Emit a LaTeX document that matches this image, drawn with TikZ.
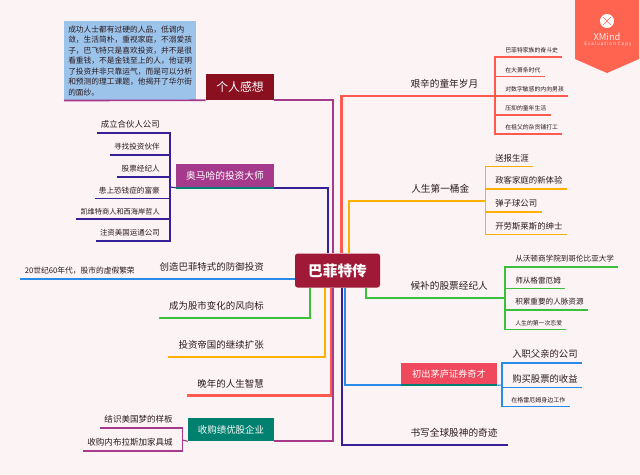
\documentclass[tikz,border=0pt]{standalone}
\usepackage{fontspec}
\setmainfont{Noto Sans CJK SC}
\usetikzlibrary{positioning,calc}
\definecolor{Paper}{HTML}{FCF3F5}
\definecolor{Ink}{HTML}{2A1A1E}
\definecolor{Wine}{HTML}{A01A38}
\definecolor{Maroon}{HTML}{8A1020}
\definecolor{Plum}{HTML}{A53A8C}
\definecolor{Navy}{HTML}{35209A}
\definecolor{Coral}{HTML}{FF5A50}
\definecolor{Amber}{HTML}{FFB000}
\definecolor{Grass}{HTML}{3CC03C}
\definecolor{Sky}{HTML}{2A8AE8}
\definecolor{Teal}{HTML}{00806F}
\definecolor{Rose}{HTML}{F0485C}
\definecolor{Note}{HTML}{9CC3EA}
\definecolor{Badge}{HTML}{FF6450}
\tikzset{
  x=0.75pt,y=-0.75pt,
  topic/.style={fill=#1,align=center,text=white,inner sep=0pt},
  headr/.style={anchor=south west,inner xsep=7.5pt,inner ysep=5.5pt,text=Ink,font=\fontsize{7.25pt}{9pt}\selectfont},
  headl/.style={anchor=south east,inner xsep=7.5pt,inner ysep=5.5pt,text=Ink,font=\fontsize{7.1pt}{9pt}\selectfont},
  leafr/.style={anchor=south west,inner xsep=3pt,inner ysep=3.1pt,text=Ink,font=\fontsize{#1pt}{9pt}\selectfont},
  leafl/.style={anchor=south east,inner xsep=3pt,inner ysep=3.1pt,text=Ink,font=\fontsize{#1pt}{9pt}\selectfont},
  tiny/.style={leafr=#1,inner ysep=2.5pt},
  main/.style={line width=1.8pt},
  sub/.style={line width=0.85pt},
  stripe/.style={draw=Teal,line width=1.5pt}
}
\begin{document}
\begin{tikzpicture}
  \useasboundingbox[fill=Paper] (0,0) rectangle (640,475);

  % badge
  \fill[Badge] (575,0) -- (639,0) -- (639,59) -- (607,73) -- (575,59) -- cycle;
  \fill[white] (607,21) circle (7);
  \draw[Badge,line width=0.5pt] (603,17) -- (611,25) (611,17) -- (603,25);
  \node[inner sep=0pt,text=white!85!Badge,font=\fontsize{7pt}{8pt}\selectfont] (brand) at (607,36.5) {XMind};
  \node[inner sep=0pt,text=white!85!Badge,font=\fontsize{3.4pt}{4pt}\selectfont\addfontfeature{LetterSpace=22}] (brandnote) at (608,44) {Evaluation Copy};

  % centre and coloured topics
  \node[topic=Wine,rounded corners=2pt,minimum width=63.75pt,minimum height=25.5pt,font=\fontsize{11pt}{13pt}\selectfont\bfseries] (root) at (337.5,270.5) {巴菲特传};
  \node[topic=Maroon,minimum width=51pt,minimum height=19.5pt,font=\fontsize{8.9pt}{10pt}\selectfont] (think) at (240,87) {个人感想};
  \node[fill=Note,anchor=north west,minimum width=98.25pt,minimum height=59.25pt,inner xsep=3pt,inner ysep=1pt,align=left,text=Ink,font=\fontsize{5.8pt}{7.9pt}\selectfont] (noteb) at (64,21) {成功人士都有过硬的人品，低调内\\敛，生活简朴，重视家庭，不溺爱孩\\子，巴飞特只是喜欢投资，并不是很\\看重钱，不是金钱至上的人，他证明\\了投资并非只靠运气，而是可以分析\\和预测的理工课题，他揭开了华尔街\\的面纱。};
  \node[topic=Plum,minimum width=73.5pt,minimum height=18.4pt,font=\fontsize{7.3pt}{9pt}\selectfont] (omaha) at (225,176.2) {奥马哈的投资大师};
  \node[topic=Rose,minimum width=72pt,minimum height=17.25pt,font=\fontsize{6.9pt}{9pt}\selectfont] (novice) at (449,374.5) {初出茅庐证券奇才};
  \node[topic=Teal,minimum width=64.5pt,minimum height=17.25pt,font=\fontsize{7.1pt}{9pt}\selectfont] (buy) at (231,429.5) {收购绩优股企业};
  \draw[stripe] ([yshift=0.75pt]omaha.south west) -- ([yshift=0.75pt]omaha.south east);
  \draw[stripe] ([yshift=0.75pt]novice.south west) -- ([yshift=0.75pt]novice.south east);

  % right topics
  \node[headr] (hard) at (400.3,96) {艰辛的童年岁月};
  \node[headr] (gold) at (401,201) {人生第一桶金};
  \node[headr] (broker) at (400.3,298) {候补的股票经纪人};
  \node[headr] (legend) at (400.3,445) {书写全球股神的奇迹};
  % left topics
  \node[headl] (defend) at (274,279) {创造巴菲特式的防御投资};
  \node[headl] (vane) at (274,318) {成为股市变化的风向标};
  \node[headl] (empire) at (274,357) {投资帝国的继续扩张};
  \node[headl] (wisdom) at (274,395.5) {晚年的人生智慧};

  % leaves
  \node[tiny=4.4] (hardA) at (501,57) {巴菲特家族的奋斗史};
  \node[tiny=4.4] (hardB) at (501,76.5) {在大萧条时代};
  \node[tiny=4.4] (hardC) at (501,96) {对数字敏感的内向男孩};
  \node[tiny=4.4] (hardD) at (501,115) {压抑的童年生活};
  \node[tiny=4.4] (hardE) at (501,134) {在祖父的杂货铺打工};
  \node[leafr=6.3] (goldA) at (491,166.5) {送报生涯};
  \node[leafr=6.3] (goldB) at (491,189) {政客家庭的新体验};
  \node[leafr=6.3] (goldC) at (491,212) {弹子球公司};
  \node[leafr=6.3] (goldD) at (491,234.5) {开劳斯莱斯的绅士};
  \node[leafr=5.7] (brokerA) at (511,267) {从沃顿商学院到哥伦比亚大学};
  \node[leafr=5.7] (brokerB) at (511,288.5) {师从格雷厄姆};
  \node[leafr=5.7] (brokerC) at (511,310) {积累重要的人脉资源};
  \node[tiny=4.4] (brokerD) at (511,329.5) {人生的第一次恋爱};
  \node[leafr=7] (noviceA) at (508,363) {入职父亲的公司};
  \node[leafr=7] (noviceB) at (508,387.5) {购买股票的收益};
  \node[tiny=4.5] (noviceC) at (507,406.5) {在格雷厄姆身边工作};
  \node[leafl=6.3] (omahaA) at (164,133) {成立合伙人公司};
  \node[leafl=5.7] (omahaB) at (164,155) {寻找投资伙伴};
  \node[leafl=5.7] (omahaC) at (164,177) {股票经纪人};
  \node[leafl=5.7] (omahaD) at (164,198.5) {患上恐钱症的富豪};
  \node[leafl=5.4] (omahaE) at (164,219) {凯维特商人和西海岸哲人};
  \node[leafl=5.6] (omahaF) at (164,241) {注资美国运通公司};
  \node[leafl=5.8] (era) at (139,279) {20世纪60年代，股市的虚假繁荣};
  \node[leafl=6.4] (buyA) at (177,428) {结识美国梦的样板};
  \node[leafl=6.4] (buyB) at (177,451) {收购内布拉斯加家具城};

  % junctions
  \coordinate (hardj) at (495,96);
  \coordinate (goldj) at (485.5,201);
  \coordinate (brokerj) at (505,298);
  \coordinate (novicej) at (502,385);
  \coordinate (omahaj) at (170,187);
  \coordinate (buyj) at (182.5,440);

  % branches out of the root
  \draw[Coral,main] ($(root.north)+(4,0)$) |- (hard.south east);
  \draw[Amber,main] ($(root.north)+(11.5,0)$) |- (gold.south east);
  \draw[Grass,main] ($(root.south)+(28.5,0)$) |- (broker.south east);
  \draw[Sky,main] ($(root.south)+(7.5,0)$) |- ([yshift=0.75pt]novice.south west);
  \draw[Navy,main] ($(root.south)+(4.5,0)$) |- (legend.south east);
  \draw[Plum,main] ($(root.north)+(-4.5,0)$) |- (think.south east);
  \draw[Navy,main] ($(root.north)+(-9.5,0)$) |- ([yshift=0.75pt]omaha.south east);
  \draw[Sky,main] ($(root.west)+(0,8.5)$) -- (defend.south west);
  \draw[Grass,main] ($(root.south)+(-27.5,0)$) |- (vane.south west);
  \draw[Amber,main] ($(root.south)+(-12.5,0)$) |- (empire.south west);
  \draw[Coral,main] ($(root.south)+(-6.5,0)$) |- (wisdom.south west);
  \draw[Plum,main] ($(root.south)+(-4.5,0)$) |- (buy.south east);
  \draw[Plum,line width=1.2pt] (think.south west) -- (noteb.south west);

  % branches to the leaves
  \draw[Coral,sub] (hard.south east) -- (hardj);
  \foreach \n in {hardA,hardB,hardC,hardD,hardE}
    \draw[Coral,sub] (hardj) |- (\n.south east);
  \draw[Amber,sub] (gold.south east) -- (goldj);
  \foreach \n in {goldA,goldB,goldC,goldD}
    \draw[Amber,sub] (goldj) |- (\n.south east);
  \draw[Grass,sub] (broker.south east) -- (brokerj);
  \foreach \n in {brokerA,brokerB,brokerC,brokerD}
    \draw[Grass,sub] (brokerj) |- (\n.south east);
  \draw[Sky,sub] ([yshift=0.75pt]novice.south east) -- (novicej);
  \foreach \n in {noviceA,noviceB,noviceC}
    \draw[Sky,sub] (novicej) |- (\n.south east);
  \draw[Navy,sub] ([yshift=0.75pt]omaha.south west) -- (omahaj);
  \foreach \n in {omahaA,omahaB,omahaC,omahaD,omahaE,omahaF}
    \draw[Navy,sub] (omahaj) |- (\n.south west);
  \draw[Sky,sub] (defend.south west) -- (era.south west);
  \draw[Plum,sub] (buy.south west) -- (buyj);
  \foreach \n in {buyA,buyB}
    \draw[Plum,sub] (buyj) |- (\n.south west);
\end{tikzpicture}
\end{document}
